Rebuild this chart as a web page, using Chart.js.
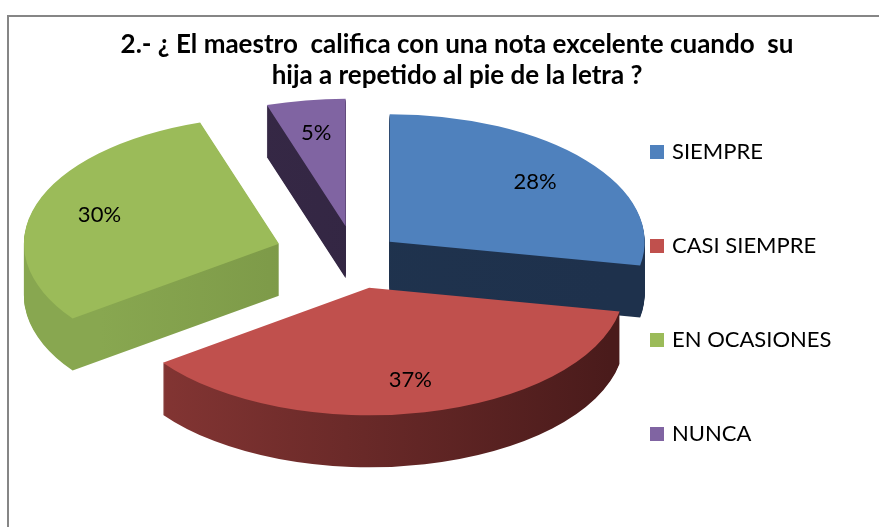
<!DOCTYPE html>
<html>
<head>
<meta charset="utf-8">
<script src="https://cdn.jsdelivr.net/npm/chart.js"></script>
<style>
  html, body { margin: 0; padding: 0; background: #fff; overflow: hidden; }
  #wrap { position: relative; width: 879px; height: 527px; }
  #frame { position: absolute; left: 7px; top: 15px; width: 900px; height: 600px;
           border-left: 2px solid #868686; border-top: 2px solid #868686; box-sizing: border-box; }
  #chart { position: absolute; left: 0; top: 0; }
</style>
</head>
<body>
<div id="wrap">
  <div id="frame"></div>
  <canvas id="chart" width="879" height="527"></canvas>
</div>
<script>
const categories = ['SIEMPRE', 'CASI SIEMPRE', 'EN OCASIONES', 'NUNCA'];
const percentages = [28, 37, 30, 5];
const titleLines = ['2.- ¿ El maestro  califica con una nota excelente cuando  su', 'hija a repetido al pie de la letra ?'];

const topColors = ['#4f81bd', '#c0504d', '#9bbb59', '#8064a2'];
// side wall shading: [left, right] of the pie
const wallColors = [['#20344f', '#1e314c'], ['#8a3836', '#4a1b1b'], ['#88a750', '#6a833b'], ['#382a47', '#2f2340']];
const explode = [45, 65, 80, 60];   // px pulled out along each slice's middle
const TILT = 0.5;                   // vertical squash of the pie
const DEPTH = 52;                   // thickness in px
const LABEL_R = 0.74;

// fake 3D: squash the pie and stack darker copies underneath for the walls
const pie3d = {
  id: 'pie3d',
  beforeDatasetsDraw(chart) {
    const ctx = chart.ctx;
    const arcs = chart.getDatasetMeta(0).data;
    const cx = arcs[0].x, cy = arcs[0].y, r = arcs[0].outerRadius;

    ctx.save();
    ctx.translate(cx, cy);
    ctx.scale(1, TILT);
    ctx.translate(-cx, -cy);

    const moved = (arc, i, opts) => {
      const mid = (arc.startAngle + arc.endAngle) / 2;
      const p = Object.create(arc);
      p.x = arc.x + Math.cos(mid) * explode[i];
      p.y = arc.y + Math.sin(mid) * explode[i];
      p.options = opts;
      return p;
    };

    const walls = arcs.map((arc, i) => {
      const g = ctx.createLinearGradient(cx - r, 0, cx + r, 0);
      g.addColorStop(0, wallColors[i][0]);
      g.addColorStop(1, wallColors[i][1]);
      return moved(arc, i, Object.assign({}, arc.options, {backgroundColor: g, borderWidth: 0}));
    });
    for (let d = DEPTH; d > 0; d--) {
      ctx.save();
      ctx.translate(0, d / TILT);
      walls.forEach(w => w.draw(ctx));
      ctx.restore();
    }
    arcs.forEach((arc, i) => moved(arc, i, arc.options).draw(ctx));
    ctx.restore();
    return false;
  }
};

const decor = {
  id: 'decor',
  afterDraw(chart) {
    const ctx = chart.ctx;
    const arcs = chart.getDatasetMeta(0).data;
    const total = percentages.reduce((a, b) => a + b, 0);
    ctx.save();

    // title
    ctx.fillStyle = '#000';
    ctx.textAlign = 'center';
    ctx.textBaseline = 'middle';
    ctx.font = 'bold 26px Lato';
    ctx.fillText(titleLines[0], 457, 45);
    ctx.fillText(titleLines[1], 457, 76);

    // percentage labels
    ctx.font = '22px Lato';
    arcs.forEach((arc, i) => {
      const mid = (arc.startAngle + arc.endAngle) / 2;
      const d = explode[i] + arc.outerRadius * LABEL_R;
      const x = arc.x + Math.cos(mid) * d;
      const y = arc.y + Math.sin(mid) * d * TILT;
      ctx.fillText(Math.round(percentages[i] / total * 100) + '%', x, y);
    });

    // legend
    ctx.textAlign = 'left';
    ctx.font = '22px Lato';
    categories.forEach((name, i) => {
      const y = 152 + i * 94;
      ctx.fillStyle = topColors[i];
      ctx.fillRect(650, y - 7, 14, 14);
      ctx.fillStyle = '#000';
      ctx.fillText(name, 672, y);
    });
    ctx.restore();
  }
};

new Chart(document.getElementById('chart'), {
  type: 'pie',
  data: {
    labels: categories,
    datasets: [{
      data: percentages,
      backgroundColor: topColors,
      borderWidth: 0,
      radius: 255
    }]
  },
  options: {
    responsive: false,
    animation: false,
    layout: { padding: { left: 0, right: 169, top: 0, bottom: 15 } },
    plugins: {
      legend: { display: false },
      title: { display: false },
      tooltip: { enabled: false }
    }
  },
  plugins: [pie3d, decor]
});
</script>
</body>
</html>
